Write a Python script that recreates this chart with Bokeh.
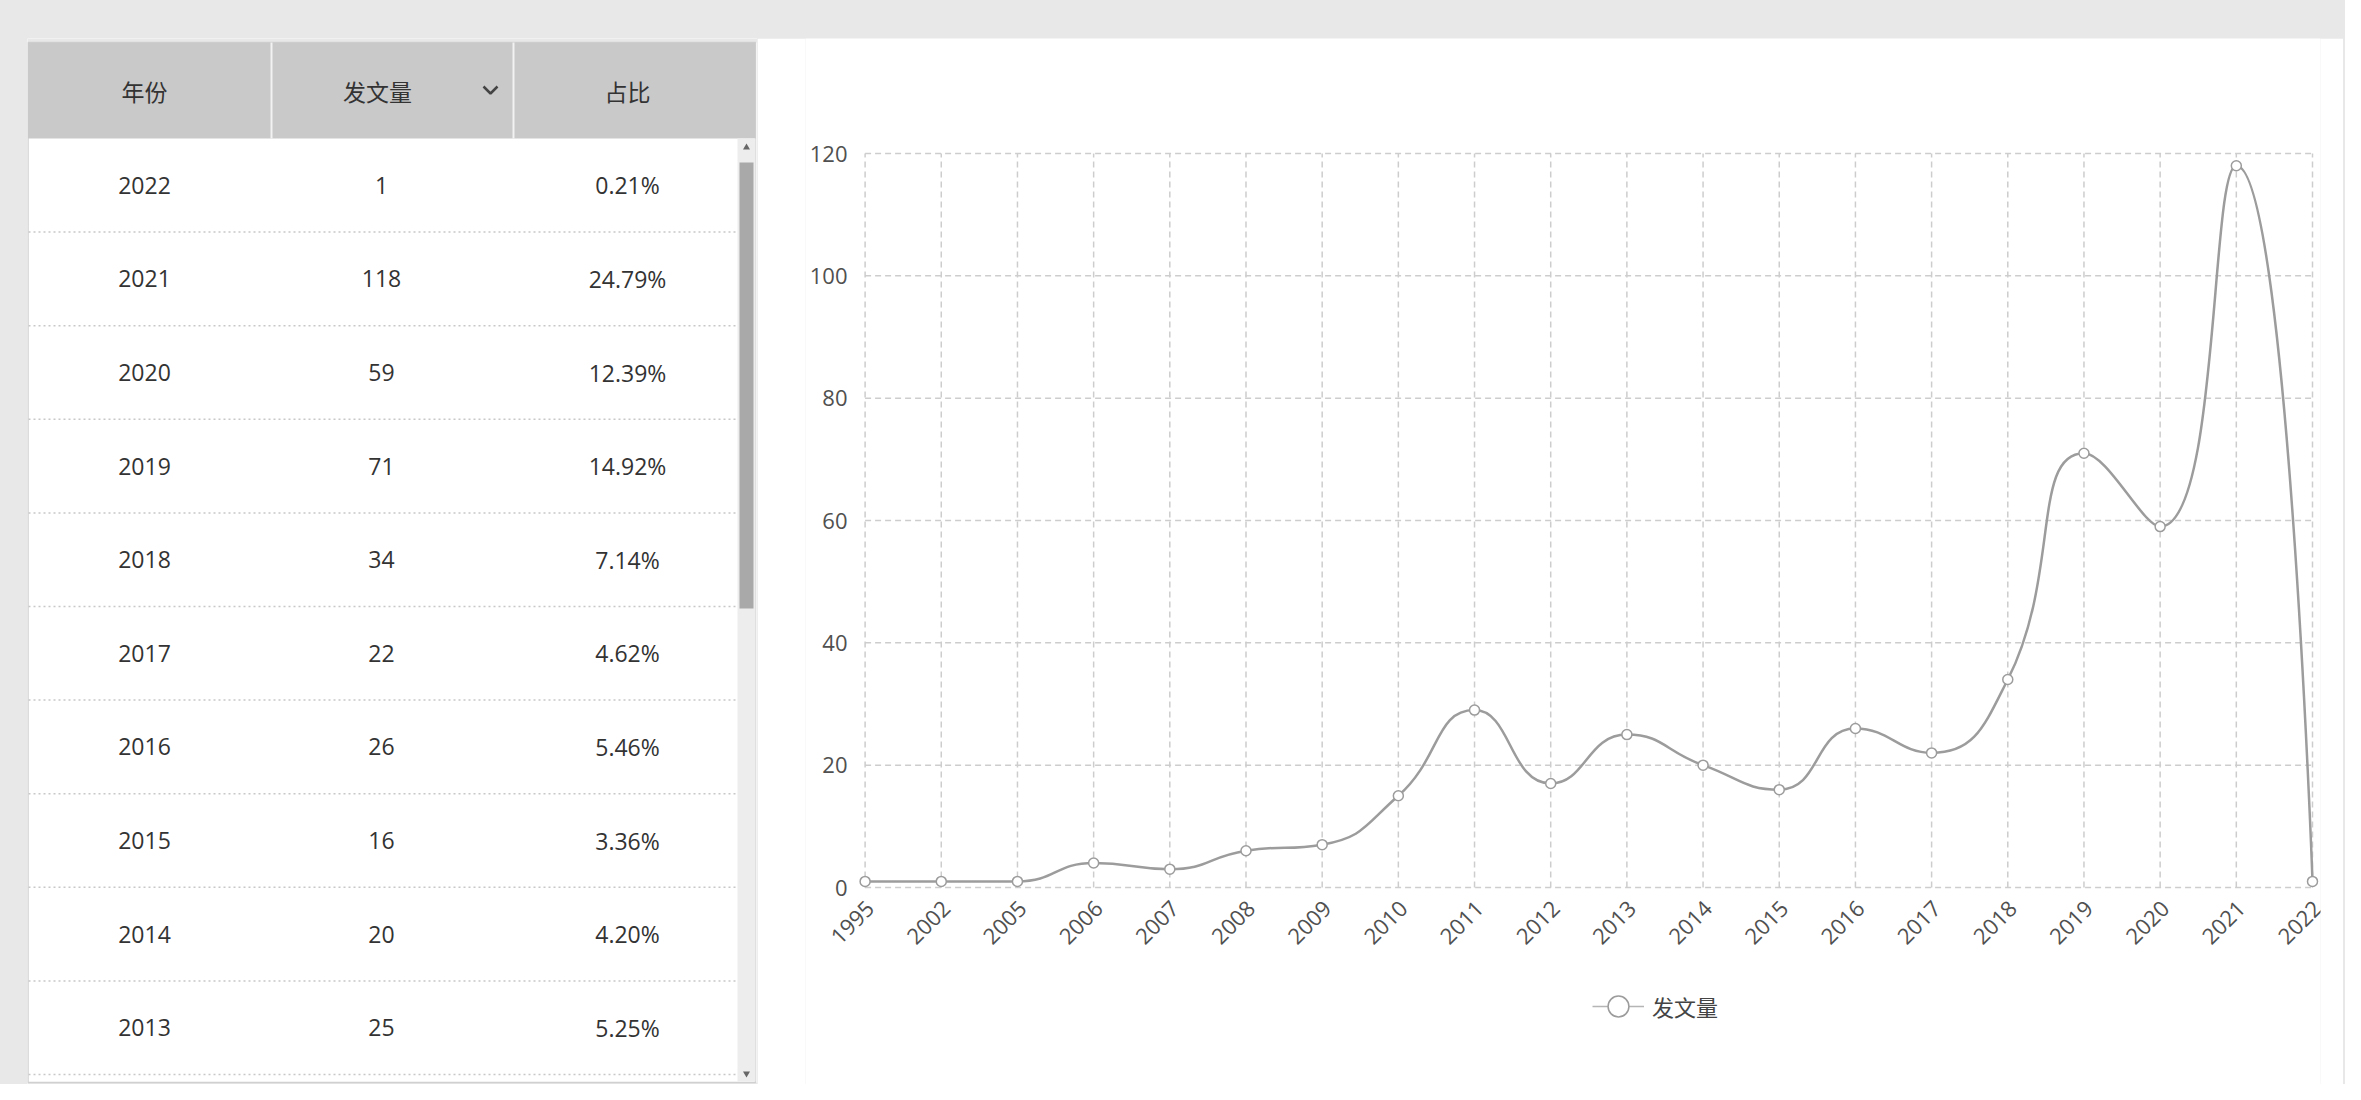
import math
from bokeh.plotting import figure
from bokeh.models import Range1d, FixedTicker, Legend, LegendItem, ColumnDataSource
from bokeh.layouts import row
from bokeh.embed import file_html
from bokeh.resources import INLINE
from bokeh.core.properties import value

# ---------------- data ----------------
years = ["1995", "2002", "2005", "2006", "2007", "2008", "2009", "2010", "2011", "2012",
         "2013", "2014", "2015", "2016", "2017", "2018", "2019", "2020", "2021", "2022"]
counts = [1, 1, 1, 4, 3, 6, 7, 15, 29, 17,
          25, 20, 16, 26, 22, 34, 71, 59, 118, 1]
y_ticks = [0, 20, 40, 60, 80, 100, 120]
series_name = "发文量"

header_labels = ["年份", "发文量", "占比"]
table_years = ["2022", "2021", "2020", "2019", "2018", "2017", "2016", "2015", "2014", "2013"]
table_counts = [1, 118, 59, 71, 34, 22, 26, 16, 20, 25]
table_shares = ["0.21%", "24.79%", "12.39%", "14.92%", "7.14%", "4.62%", "5.46%", "3.36%", "4.20%", "5.25%"]

# ---------------- styles ----------------
TEXT = "#333333"
AXIS_TEXT = "#505050"
LINE = "#9c9c9c"
GRID = "#cdcdcd"
NUM_FONT = value("Open Sans")
CJK_FONT = value("Noto Sans CJK SC")

# page geometry (px)
TOP, BOT = 38, 1084
TL, TR = 27, 757
CH_R = 2343

# ---------------- left: table ----------------
p1 = figure(width=TR - TL, height=BOT - TOP, x_range=Range1d(TL, TR), y_range=Range1d(BOT, TOP),
            output_backend="svg", toolbar_location=None, min_border=0,
            x_axis_location=None, y_axis_location=None)
p1.grid.visible = False
p1.outline_line_color = None
p1.background_fill_color = "white"
p1.border_fill_color = "white"

hdr_top, hdr_bot = 42, 138
tbl_bot = 1082
row_h = 93.6
col_x = [144, 381, 627]
sep_x = [271, 513]
sb_l, sb_r = 737, 755

# surrounding light-grey frame
p1.quad(left=[TL], right=[TR], top=[TOP], bottom=[hdr_top], fill_color="#e8e8e8", line_color=None)
p1.quad(left=[TL], right=[TR], top=[tbl_bot], bottom=[BOT], fill_color="#e8e8e8", line_color=None)
# body + border
p1.quad(left=[27.5], right=[sb_r], top=[hdr_top], bottom=[tbl_bot], fill_color="white",
        line_color="#d0d0d0", line_width=1.5)
# header
p1.quad(left=[27.5], right=[sb_r], top=[hdr_top], bottom=[hdr_bot], fill_color="#c9c9c9",
        line_color=None)
p1.segment(x0=sep_x, y0=[hdr_top] * 2, x1=sep_x, y1=[hdr_bot] * 2, line_color="#f2f2f2", line_width=2)
hdr_x = [col_x[0], 377, col_x[2]]
p1.text(x=hdr_x, y=[90] * 3, text=header_labels, text_font=CJK_FONT,
        text_font_size="23px", text_color=TEXT, text_align="center", text_baseline="middle")
# sort chevron
p1.line(x=[483, 490, 497], y=[86, 93, 86], line_color="#444444", line_width=2.5)

# rows
n_rows = len(table_years)
row_y = [hdr_bot + (i + 0.5) * row_h for i in range(n_rows)]
src = ColumnDataSource(dict(y=row_y, yr=table_years, ct=[str(c) for c in table_counts], sh=table_shares))
for cx, col in zip(col_x, ["yr", "ct", "sh"]):
    p1.text(x=cx, y="y", text=col, source=src, text_font=NUM_FONT, text_font_size="23px",
            text_color=TEXT, text_align="center", text_baseline="middle")
sep_y = [hdr_bot + (i + 1) * row_h for i in range(n_rows)]
p1.segment(x0=[28] * n_rows, y0=sep_y, x1=[sb_l] * n_rows, y1=sep_y, line_color="#c8c8c8",
           line_width=1.5, line_dash="2 3")

# scrollbar
p1.quad(left=[sb_l], right=[sb_r], top=[hdr_bot], bottom=[tbl_bot - 1], fill_color="#ededed", line_color=None)
p1.quad(left=[sb_l + 2], right=[sb_r - 2], top=[162], bottom=[608], fill_color="#a9a9a9", line_color=None)
p1.scatter(x=[746, 746], y=[147, tbl_bot - 9], marker=["triangle", "inverted_triangle"], size=7,
           fill_color="#666666", line_color=None)

# ---------------- right: chart ----------------
xs = list(range(len(years)))
n = len(xs)
FR_L, FR_R = 805, 2320          # plot frame, page px (room for rotated labels)
X0_PX, X19_PX = 864.6, 2312     # first / last category position
Y0_PX, Y120_PX = 887, 153       # where 0 and 120 sit
SX = (X19_PX - X0_PX) / (n - 1)
SY = (Y0_PX - Y120_PX) / 120.0
x_min = -(X0_PX - FR_L) / SX
x_max = (n - 1) + (FR_R - X19_PX) / SX
y_min = -(BOT - Y0_PX) / SY
y_max = 120 + (Y120_PX - TOP) / SY
YLAB_RIGHT = 847                # right edge of the value labels

p2 = figure(width=CH_R - TR, height=BOT - TOP, x_range=Range1d(x_min, x_max), y_range=Range1d(y_min, y_max),
            output_backend="svg", toolbar_location=None, x_axis_location=None,
            min_border_left=FR_L - TR, min_border_right=CH_R - FR_R, min_border_top=0, min_border_bottom=0)
p2.outline_line_color = None
p2.background_fill_color = "white"
p2.border_fill_color = "white"

p2.yaxis.ticker = FixedTicker(ticks=y_ticks)
ax = p2.yaxis[0]
ax.axis_line_color = None
ax.major_tick_line_color = None
ax.minor_tick_line_color = None
ax.major_tick_in = 0
ax.major_tick_out = 0
ax.minor_tick_in = 0
ax.minor_tick_out = 0
ax.major_label_text_font = "Open Sans"
ax.major_label_text_font_size = "22px"
ax.major_label_text_color = AXIS_TEXT
ax.major_label_standoff = FR_L - YLAB_RIGHT   # negative: labels sit just left of the first category

# grid: dashed, spanning only the category / value extent
p2.xgrid.visible = False
p2.ygrid.visible = False
p2.segment(x0=xs, y0=[y_ticks[0]] * n, x1=xs, y1=[y_ticks[-1]] * n,
           line_color=GRID, line_dash="6 4", line_width=1.5)
p2.segment(x0=[xs[0]] * len(y_ticks), y0=y_ticks, x1=[xs[-1]] * len(y_ticks), y1=y_ticks,
           line_color=GRID, line_dash="6 4", line_width=1.5)

# category labels along the bottom (rotated 45 degrees)
LABEL_GAP_PX = 17
lab_src = ColumnDataSource(dict(x=xs, y=[-LABEL_GAP_PX / SY] * n, t=years))
p2.text(x="x", y="y", text="t", source=lab_src, angle=math.radians(45), x_offset=5,
        text_font=NUM_FONT, text_font_size="22px", text_color=AXIS_TEXT,
        text_align="right", text_baseline="middle")


# smooth curve (echarts-like bezier smoothing, computed from the data)
def smooth_segments(xv, yv, smooth=0.5):
    P = [(a * SX, b * SY) for a, b in zip(xv, yv)]
    m = len(P)
    out = []
    cp0 = P[0]
    for i in range(1, m):
        x, y = P[i]
        px_, py_ = P[i - 1]
        if i == m - 1:
            cp1 = (x, y)
            ncp0 = None
        else:
            nx, ny = P[i + 1]
            vx, vy = nx - px_, ny - py_
            lp = math.hypot(x - px_, y - py_)
            ln = math.hypot(nx - x, ny - y)
            r = ln / (ln + lp)
            ncx, ncy = x + vx * smooth * r, y + vy * smooth * r
            ncx = max(min(ncx, max(nx, x)), min(nx, x))
            ncy = max(min(ncy, max(ny, y)), min(ny, y))
            vx, vy = ncx - x, ncy - y
            c1x, c1y = x - vx * lp / ln, y - vy * lp / ln
            c1x = max(min(c1x, max(px_, x)), min(px_, x))
            c1y = max(min(c1y, max(py_, y)), min(py_, y))
            vx, vy = x - c1x, y - c1y
            ncp0 = (x + vx * ln / lp, y + vy * ln / lp)
            cp1 = (c1x, c1y)
        out.append((P[i - 1], cp0, cp1, P[i]))
        cp0 = ncp0
    return out


segs = smooth_segments(xs, counts)
bz = dict(x0=[s[0][0] / SX for s in segs], y0=[s[0][1] / SY for s in segs],
          cx0=[s[1][0] / SX for s in segs], cy0=[s[1][1] / SY for s in segs],
          cx1=[s[2][0] / SX for s in segs], cy1=[s[2][1] / SY for s in segs],
          x1=[s[3][0] / SX for s in segs], y1=[s[3][1] / SY for s in segs])
p2.bezier(x0="x0", y0="y0", x1="x1", y1="y1", cx0="cx0", cy0="cy0", cx1="cx1", cy1="cy1",
          source=ColumnDataSource(bz), line_color=LINE, line_width=2.5)
pts = p2.scatter(x=xs, y=counts, marker="circle", size=10, fill_color="white",
                 line_color=LINE, line_width=1.5)
proxy = p2.line(x=[float("nan")], y=[float("nan")], line_color="#b5b5b5", line_width=1.5)

legend = Legend(items=[LegendItem(label=series_name, renderers=[proxy, pts])],
                location=(735 + (857 - FR_L), 52), orientation="horizontal",
                label_text_font="Noto Sans CJK SC", label_text_font_size="22px", label_text_color="#444444",
                glyph_width=52, glyph_height=52, label_standoff=8, padding=0, margin=0,
                background_fill_alpha=0, border_line_alpha=0)
p2.add_layout(legend, "center")

p1.margin = (TOP, 0, 0, TL)
p2.margin = (TOP, 2, 0, 0)
layout = row(p1, p2, styles={"background-color": "#e8e8e8"})

open("out.html", "w").write(file_html(layout, INLINE))
